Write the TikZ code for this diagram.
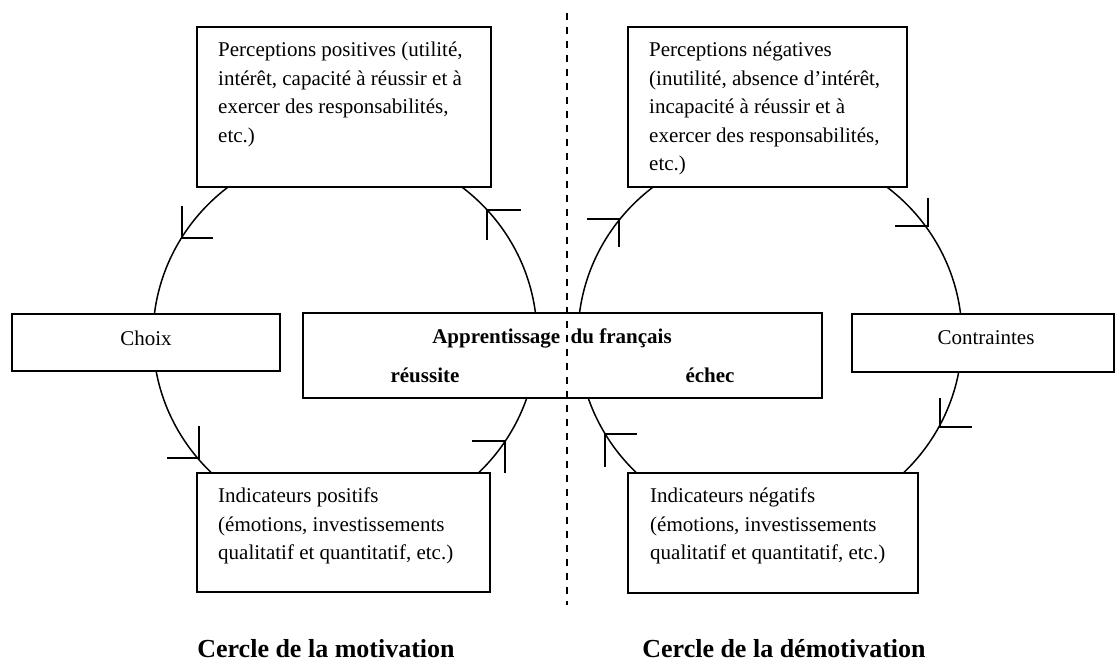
\documentclass[tikz,border=0pt]{standalone}
\usepackage{fontspec}
\setmainfont{Liberation Serif}
\begin{document}
\begin{tikzpicture}[x=1pt,y=-1pt,
  box/.style={draw, line width=1.7pt, fill=white, rectangle, inner sep=0pt},
  txt/.style={font=\fontsize{21}{28.5}\selectfont, align=left, inner sep=0pt, anchor=north west},
  plain/.style={font=\fontsize{21}{28}\selectfont, inner sep=0pt},
  bold/.style={font=\fontsize{21}{28}\selectfont\bfseries, inner sep=0pt},
  titlestyle/.style={font=\fontsize{26}{30}\selectfont\bfseries, inner sep=0pt, anchor=base},
  loopline/.style={line width=1.5pt},
  tickmark/.style={line width=1.6pt},
  divider/.style={line width=1.5pt, dash pattern=on 7pt off 7pt}]
\useasboundingbox (0,0) rectangle (1116,661);

% circles
\draw[loopline] (345,337) ellipse [x radius=192pt, y radius=189pt];
\draw[loopline] (770,337) ellipse [x radius=192pt, y radius=189pt];

% boxes
\node[box, minimum width=294pt, minimum height=160pt] (tl) at (344,107) {};
\node[box, minimum width=279pt, minimum height=160pt] (tr) at (767.5,107) {};
\node[box, minimum width=293pt, minimum height=119pt] (bl) at (343.5,532.5) {};
\node[box, minimum width=290pt, minimum height=120pt] (br) at (773,533) {};
\node[box, minimum width=268pt, minimum height=57pt] (choix) at (146,342.5) {};
\node[box, minimum width=519pt, minimum height=85pt] (centre) at (562.5,355.5) {};
\node[box, minimum width=262pt, minimum height=58pt] (contr) at (983,343) {};

% direction marks, left circle
\draw[tickmark] (182,206) -- (182,238) -- (213,238);
\draw[tickmark] (487,240) -- (487,210) -- (521,210);
\draw[tickmark] (199,426) -- (199,458) -- (167,458);
\draw[tickmark] (505,473) -- (505,441) -- (472,441);
% direction marks, right circle
\draw[tickmark] (587,219) -- (619,219) -- (619,247);
\draw[tickmark] (928,198) -- (928,226) -- (895,226);
\draw[tickmark] (940,398) -- (940,427) -- (972,427);
\draw[tickmark] (605,467) -- (605,434) -- (637,434);

% divider
\coordinate (dtop) at (567,13);
\coordinate (dbot) at (567,605);
\draw[divider] (dtop) -- (dbot);

% texts
\node[txt] (tltext) at (218,42) {Perceptions positives (utilité,\\intérêt, capacité à réussir et à\\exercer des responsabilités,\\etc.)};
\node[txt] (trtext) at (649,42) {Perceptions négatives\\(inutilité, absence d’intérêt,\\incapacité à réussir et à\\exercer des responsabilités,\\etc.)};
\node[txt] (bltext) at (218,488) {Indicateurs positifs\\(émotions, investissements\\qualitatif et quantitatif, etc.)};
\node[txt] (brtext) at (650,488) {Indicateurs négatifs\\(émotions, investissements\\qualitatif et quantitatif, etc.)};

\node[plain] (choixtext) at (146,338) {Choix};
\node[plain] (contrtext) at (986,338) {Contraintes};

\node[bold] (apprtext) at (552,338) {Apprentissage\ \ du français};
\node[bold] (reutext) at (425,375) {réussite};
\node[bold] (echtext) at (710,375) {échec};

\node[titlestyle] (t1) at (326,657) {Cercle de la motivation};
\node[titlestyle] (t2) at (784,657) {Cercle de la démotivation};
\end{tikzpicture}
\end{document}
